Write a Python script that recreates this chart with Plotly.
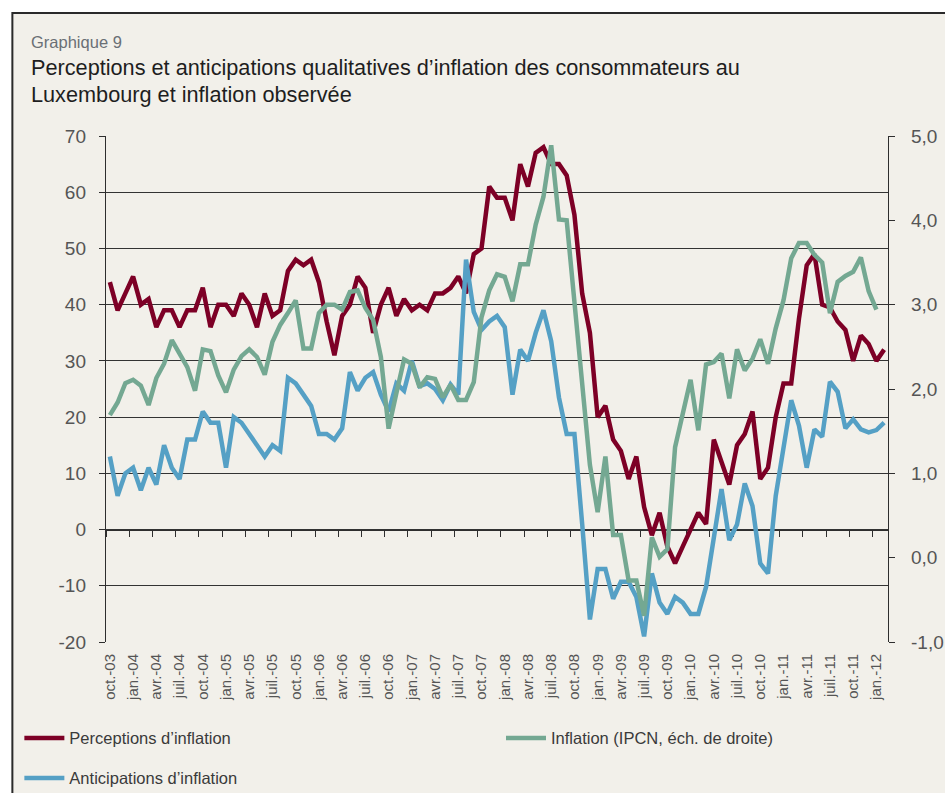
import plotly.graph_objects as go

# ---------------- data ----------------
mois_abbr = ["jan.", "fév.", "mars", "avr.", "mai", "juin", "juil.", "août", "sept.", "oct.", "nov.", "déc."]
start_year, start_month, n_months = 2003, 10, 101
months = []
for k in range(n_months):
    m = (start_month - 1 + k) % 12
    y = start_year + (start_month - 1 + k) // 12
    months.append(f"{mois_abbr[m]}-{y % 100:02d}")

perceptions = [44, 39, 42, 45, 40, 41, 36, 39, 39, 36,
               39, 39, 43, 36, 40, 40, 38, 42, 40, 36,
               42, 38, 39, 46, 48, 47, 48, 44, 37, 31,
               38, 40, 45, 43, 35, 40, 43, 38, 41, 39,
               40, 39, 42, 42, 43, 45, 42, 49, 50, 61,
               59, 59, 55, 65, 61, 67, 68, 65, 65, 63,
               56, 42, 35, 20, 22, 16, 14, 9, 13, 4,
               -1, 3, -3, -6, -3, 0, 3, 1, 16, 12,
               8, 15, 17, 21, 9, 11, 20, 26, 26, 37.5,
               47, 49, 40, 39.5, 37, 35.5, 30, 34.5, 33, 30,
               32]

anticipations = [13, 6, 10, 11, 7, 11, 8, 15, 11, 9,
                 16, 16, 21, 19, 19, 11, 20, 19, 17, 15,
                 13, 15, 14, 27, 26, 24, 22, 17, 17, 16,
                 18, 28, 24.7, 27, 28, 24, 21, 26, 24.7, 30,
                 25.5, 26, 25, 23, 25.8, 24, 48, 38.7, 35.5, 37,
                 38, 36, 24, 32, 30, 35, 39, 33.5, 23.5, 17,
                 17, 1, -16, -7, -7, -12.3, -9.3, -9.3, -12, -19,
                 -7.8, -13, -15, -12, -13, -15, -15, -10.2, -1.3, 7.2,
                 -1.9, 0.9, 8.2, 4.2, -6, -7.8, 6, 14, 23, 18.5,
                 11, 17.8, 16.5, 26.3, 24.5, 18, 19.6, 17.8, 17.3, 17.7,
                 19]

inflation = [1.69, 1.84, 2.07, 2.11, 2.04, 1.81, 2.13, 2.30, 2.58, 2.42,
             2.26, 1.98, 2.47, 2.45, 2.16, 1.96, 2.23, 2.39, 2.47, 2.38,
             2.17, 2.56, 2.76, 2.90, 3.05, 2.48, 2.48, 2.90, 3.00, 3.00,
             2.94, 3.15, 3.17, 2.96, 2.82, 2.38, 1.53, 1.95, 2.35, 2.30,
             2.02, 2.14, 2.12, 1.90, 2.05, 1.87, 1.87, 2.08, 2.85, 3.17,
             3.36, 3.33, 3.04, 3.48, 3.48, 3.95, 4.28, 4.89, 4.01, 4.00,
             3.0, 2.05, 1.1, 0.54, 1.20, 0.27, 0.27, -0.27, -0.27, -0.69,
             0.24, 0.01, 0.10, 1.31, 1.73, 2.11, 1.51, 2.29, 2.32, 2.42,
             1.89, 2.47, 2.22, 2.36, 2.59, 2.30, 2.72, 3.05, 3.55, 3.73,
             3.73, 3.59, 3.50, 2.90, 3.27, 3.34, 3.39, 3.56, 3.16, 2.94,
             None]

left_ticks = [-20, -10, 0, 10, 20, 30, 40, 50, 60, 70]
left_ticktext = ["-20", "-10", "0", "10", "20", "30", "40", "50", "60", "70"]
right_ticks = [-1, 0, 1, 2, 3, 4, 5]
right_ticktext = ["-1,0", "0,0", "1,0", "2,0", "3,0", "4,0", "5,0"]
x_ticklabels = months[0:100:3]

name_perc = "Perceptions d’inflation"
name_antic = "Anticipations d’inflation"
name_infl = "Inflation (IPCN, éch. de droite)"

# ---------------- layout geometry ----------------
W, H = 945, 793
PL, PR, PT, PB = 105.7, 888.3, 136.0, 641.8

def px_x(px):
    return (px - PL) / (PR - PL)

def px_y(py):
    return (PB - py) / (PB - PT)

FONT = "Liberation Sans, Arial, sans-serif"
RED = "#7D0026"
GREEN = "#74A892"
BLUE = "#55A0C5"
BG = "#F2F0EA"
AXC = "#2e2e2e"
GRID = "#333333"

fig = go.Figure()
fig.add_trace(go.Scatter(x=months, y=perceptions, name=name_perc, mode="lines",
                         line=dict(color=RED, width=4.5), legend="legend"))
fig.add_trace(go.Scatter(x=months, y=anticipations, name=name_antic, mode="lines",
                         line=dict(color=BLUE, width=4.5), legend="legend2"))
fig.add_trace(go.Scatter(x=months, y=inflation, name=name_infl, mode="lines",
                         line=dict(color=GREEN, width=4.5), yaxis="y2", legend="legend3"))
# helper trace so that the zero-line tick axis is drawn
fig.add_trace(go.Scatter(x=[None], y=[None], xaxis="x2", yaxis="y", showlegend=False,
                         hoverinfo="skip", mode="lines"))

boundaries = [k - 0.5 for k in range(0, n_months, 3)]
zero_pos = (0 - left_ticks[0]) / (left_ticks[-1] - left_ticks[0])

leg_common = dict(orientation="h", xanchor="left", yanchor="middle", bgcolor="rgba(0,0,0,0)",
                  font=dict(size=16.5, color="#3a3a3a", family=FONT), itemwidth=40)

fig.update_layout(
    width=W, height=H, autosize=False,
    margin=dict(l=PL, r=W - PR, t=PT, b=H - PB, pad=0, autoexpand=False),
    paper_bgcolor="white",
    plot_bgcolor="rgba(0,0,0,0)",
    font=dict(family=FONT, color="#555555"),
    showlegend=True,
    xaxis=dict(type="category", categoryorder="array", categoryarray=months,
               range=[-0.5, n_months - 0.5], tickmode="array", tickvals=x_ticklabels,
               ticktext=x_ticklabels, tickangle=-90, ticks="", showgrid=False,
               showline=False, zeroline=False, tickfont=dict(size=15, color="#555555"),
               ticklabelstandoff=8, fixedrange=True),
    xaxis2=dict(type="linear", overlaying="x", anchor="free", position=zero_pos,
                range=[-0.5, n_months - 0.5], tickmode="array", tickvals=boundaries,
                ticks="outside", ticklen=6, tickwidth=1, tickcolor=AXC,
                showticklabels=False, showgrid=False, zeroline=False,
                showline=True, linecolor=AXC, linewidth=1.4, layer="below traces"),
    yaxis=dict(range=[left_ticks[0], left_ticks[-1]], tickmode="array", tickvals=left_ticks,
               ticktext=left_ticktext, ticks="outside", ticklen=6, tickcolor=AXC,
               showline=True, linecolor=AXC, linewidth=1.4, showgrid=True,
               gridcolor=GRID, gridwidth=1.3, zeroline=False,
               tickfont=dict(size=19, color="#555555"), ticklabelstandoff=9, layer="below traces"),
    yaxis2=dict(range=[right_ticks[0], right_ticks[-1]], overlaying="y", side="right", anchor="x",
                tickmode="array", tickvals=right_ticks, ticktext=right_ticktext,
                ticks="outside", ticklen=6, tickcolor=AXC, showline=True, linecolor=AXC,
                linewidth=1.4, showgrid=False, zeroline=False,
                tickfont=dict(size=19, color="#555555"), ticklabelstandoff=12),
    legend=dict(x=px_x(19), y=px_y(738), **leg_common),
    legend2=dict(x=px_x(19), y=px_y(778), **leg_common),
    legend3=dict(x=px_x(501), y=px_y(738), **leg_common),
    shapes=[dict(type="rect", xref="paper", yref="paper", layer="below",
                 x0=px_x(12), x1=px_x(960), y0=px_y(810), y1=px_y(13),
                 fillcolor=BG, line=dict(color="#2a2a2a", width=2))],
    annotations=[
        dict(text="Graphique 9", xref="paper", yref="paper", x=px_x(29), y=px_y(42),
             xanchor="left", yanchor="middle", showarrow=False,
             font=dict(size=16.5, color="#6a6f75", family=FONT)),
        dict(text="Perceptions et anticipations qualitatives d’inflation des consommateurs au",
             xref="paper", yref="paper", x=px_x(29), y=px_y(68),
             xanchor="left", yanchor="middle", showarrow=False,
             font=dict(size=21.7, color="#1e1e1e", family=FONT)),
        dict(text="Luxembourg et inflation observée",
             xref="paper", yref="paper", x=px_x(29), y=px_y(95),
             xanchor="left", yanchor="middle", showarrow=False,
             font=dict(size=21.7, color="#1e1e1e", family=FONT)),
    ],
)

fig.write_html("out.html", config={"displayModeBar": False},
               post_script="document.body.style.margin='0';document.body.style.overflow='hidden';")
